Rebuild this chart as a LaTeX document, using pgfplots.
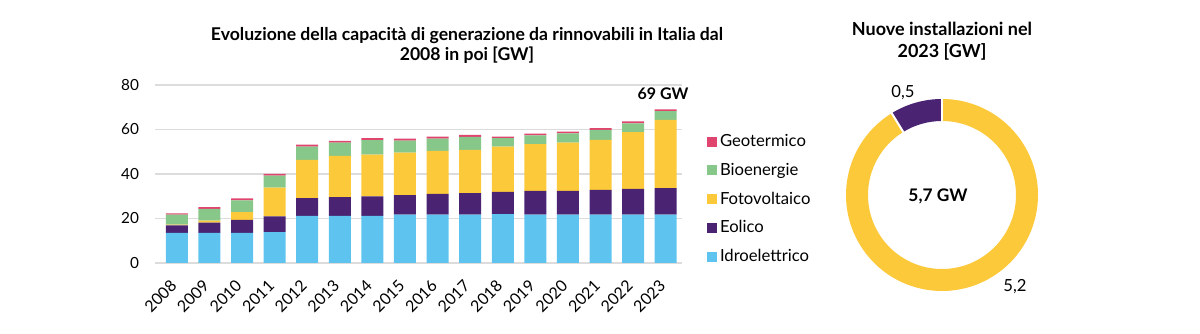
\documentclass[border=0pt]{standalone}
\usepackage{pgfplots}
\pgfplotsset{compat=1.18}
\usepackage{pgfplotstable}
\usepackage{fontspec}
\setmainfont{Lato}
\definecolor{cIdro}{HTML}{5EC4EF}
\definecolor{cEol}{HTML}{4A2473}
\definecolor{cSol}{HTML}{FCC93A}
\definecolor{cBio}{HTML}{88C78A}
\definecolor{cGeo}{HTML}{E0456F}
\definecolor{cGrid}{HTML}{DCDCDC}
\pgfplotstableread{
x year idro eol sol bio geo
0 2008 13.5 3.4 0.4 4.4 0.6
1 2009 13.5 4.7 0.9 5.2 0.8
2 2010 13.5 5.9 3.5 5.2 0.9
3 2011 13.9 7.0 13.0 5.4 0.8
4 2012 21.2 8.0 17.2 5.9 0.9
5 2013 21.2 8.4 18.5 6.0 0.8
6 2014 21.2 8.7 18.8 6.5 0.9
7 2015 21.7 8.8 19.1 5.4 0.9
8 2016 21.7 9.4 19.3 5.5 0.9
9 2017 21.7 9.7 19.4 5.9 0.9
10 2018 22.0 10.0 20.3 3.8 0.7
11 2019 21.7 10.7 21.0 4.0 0.8
12 2020 21.7 10.7 21.7 4.2 0.8
13 2021 21.7 11.2 22.4 4.5 0.8
14 2022 21.7 11.6 25.5 4.0 0.8
15 2023 21.7 11.9 30.7 4.0 0.8
}\datatable
\pgfplotsset{sqlegend/.style={legend image code/.code={\fill[##1] (0pt,-3.75pt) rectangle (7.5pt,3.75pt);}}}
\def\vEol{0.5}
\def\vSol{5.2}
\begin{document}
\begin{tikzpicture}
\useasboundingbox (0,0) rectangle (900pt,-250.5pt);
\node[font=\bfseries\fontsize{13.2}{15}\selectfont, align=center] at (350.25pt,-33.75pt)
  {Evoluzione della capacità di generazione da rinnovabili in Italia dal\\2008 in poi [GW]};
\node[font=\bfseries\fontsize{13.5}{16.5}\selectfont, align=center] at (706.5pt,-30.75pt)
  {Nuove installazioni nel\\2023 [GW]};
\begin{axis}[
  at={(116.25pt,-197.25pt)}, anchor=south west,
  scale only axis, width=395.25pt, height=133.5pt,
  clip=false,
  ybar stacked, bar width=16.5pt,
  xmin=-0.67, xmax=15.5, ymin=0, ymax=80,
  xtick={0,...,15},
  xticklabels={2008,2009,2010,2011,2012,2013,2014,2015,2016,2017,2018,2019,2020,2021,2022,2023},
  ytick={0,20,40,60,80},
  axis line style={draw=none}, tick style={draw=none},
  ymajorgrids, grid style={draw=cGrid, line width=0.8pt},
  /pgf/number format/assume math mode=true,
  yticklabel style={font=\fontsize{11.5}{13}\selectfont, xshift=-8.5pt},
  xticklabel style={font=\fontsize{12}{13}\selectfont, xshift=-5.6pt, yshift=-7pt, rotate=45, anchor=north east},
  legend style={at={(1.04,0.359)}, anchor=west, draw=none, fill=none,
    font=\fontsize{12.5}{14}\selectfont, row sep=6.9pt,
    nodes={inner sep=2pt}},
  legend cell align=left,
  reverse legend,
]
\addplot[fill=cIdro, draw=none, sqlegend] table[x=x,y=idro]{\datatable};
\addplot[fill=cEol, draw=none, sqlegend] table[x=x,y=eol]{\datatable};
\addplot[fill=cSol, draw=none, sqlegend] table[x=x,y=sol]{\datatable};
\addplot[fill=cBio, draw=none, sqlegend] table[x=x,y=bio]{\datatable};
\addplot[fill=cGeo, draw=none, sqlegend] table[x=x,y=geo]{\datatable};
\legend{Idroelettrico,Eolico,Fotovoltaico,Bioenergie,Geotermico}
\node[font=\bfseries\fontsize{12}{13}\selectfont, anchor=south] at (axis cs:15,69.1) [xshift=-2pt, yshift=4pt] {69 GW};
\end{axis}
\pgfmathsetmacro\angP{90+\vEol/(\vEol+\vSol)*360}
\begin{axis}[
  at={(706.5pt,-146.25pt)}, anchor=center,
  scale only axis, width=144pt, height=144pt,
  xmin=-1, xmax=1, ymin=-1, ymax=1, hide axis, clip=false,
]
\fill[cSol] (axis cs:0,0) ++(\angP:72pt) arc[start angle=\angP, end angle=450, radius=72pt]
  -- ++(90:-16.5pt) arc[start angle=450, end angle=\angP, radius=55.5pt] -- cycle;
\fill[cEol] (axis cs:0,0) ++(90:72pt) arc[start angle=90, end angle=\angP, radius=72pt]
  -- ++(\angP:-16.5pt) arc[start angle=\angP, end angle=90, radius=55.5pt] -- cycle;
\draw[white, line width=1.5pt] (axis cs:0,0) ++(90:54pt) -- ++(90:20pt);
\draw[white, line width=1.5pt] (axis cs:0,0) ++(\angP:54pt) -- ++(\angP:20pt);
\node[font=\fontsize{12.5}{14}\selectfont] at (axis cs:0,0) [xshift=-29.25pt, yshift=76.5pt] {0,5};
\node[font=\fontsize{12.5}{14}\selectfont] at (axis cs:0,0) [xshift=54.75pt, yshift=-69pt] {5,2};
\node[font=\bfseries\fontsize{13}{15}\selectfont] at (axis cs:0,0) [xshift=-3pt, yshift=-1pt] {5,7 GW};
\end{axis}
\end{tikzpicture}
\end{document}
